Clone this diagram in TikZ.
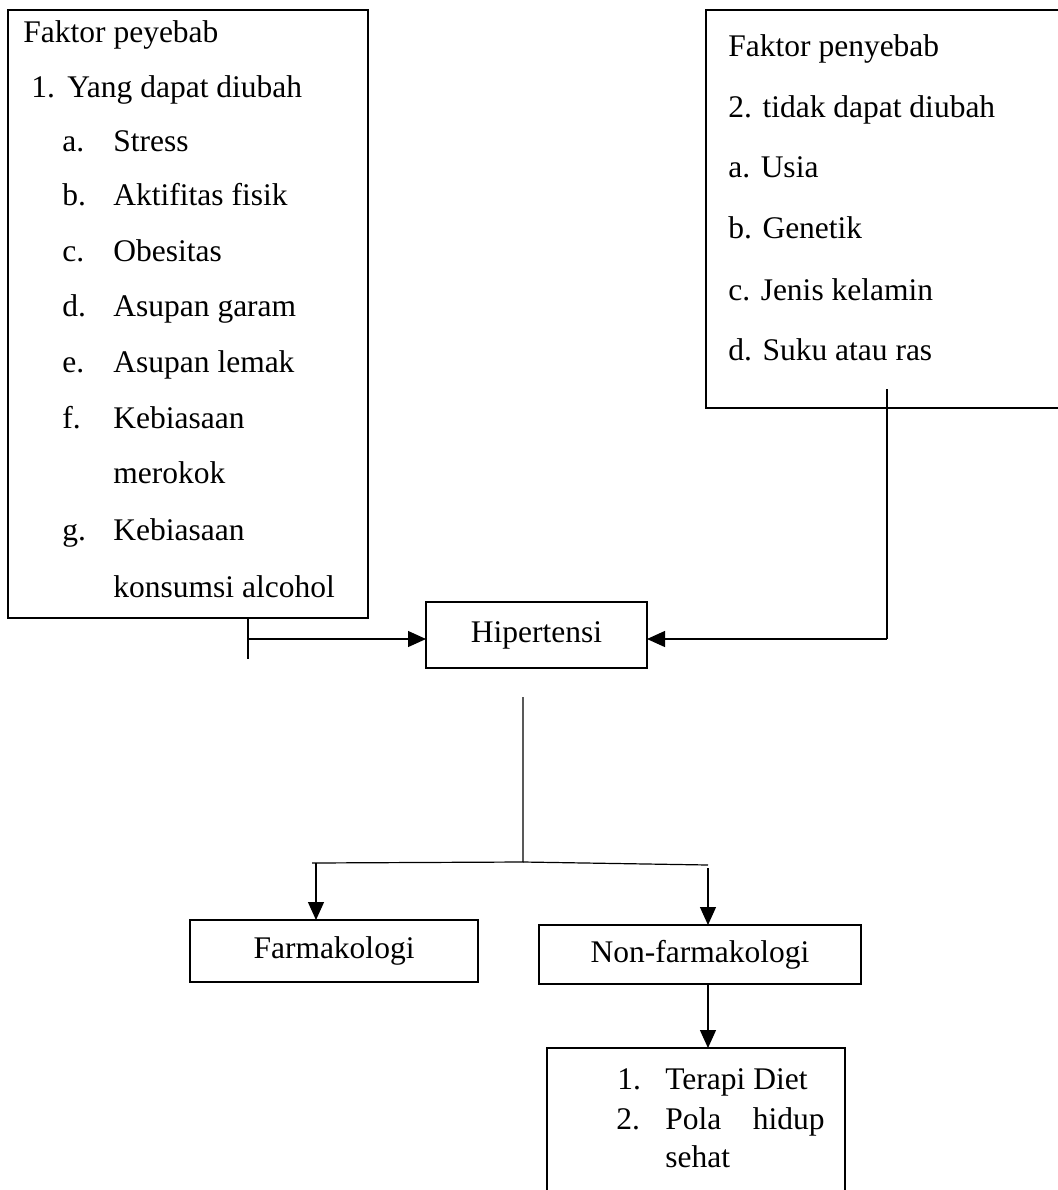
\documentclass[tikz,border=0pt]{standalone}
\usepackage{fontspec}
\setmainfont{Liberation Serif}
\usetikzlibrary{arrows.meta}
\begin{document}
\begin{tikzpicture}[x=0.5pt,y=-0.5pt,
  box/.style={draw, line width=1.2pt, inner sep=0pt, outer sep=0pt},
  conn/.style={line width=0.6pt},
  arr/.style={conn, -{Triangle[length=9pt,width=8pt]}},
  wtxt/.style={anchor=base west, inner sep=0pt, font=\fontsize{15.75pt}{19pt}\selectfont},
  ntxt/.style={anchor=base west, inner sep=0pt, font=\fontsize{15.75pt}{19pt}\selectfont},
  btxt/.style={font=\fontsize{15.75pt}{19pt}\selectfont},
]
\clip (0,0) rectangle (1058,1190);
\fill[white] (0,0) rectangle (1058,1190);

% boxes
\node[box, minimum width=180pt, minimum height=304pt] (lbox) at (188,314) {};
\node[box, minimum width=180pt, minimum height=199pt] (rbox) at (886,209) {};
\node[box, btxt, minimum width=110.5pt, minimum height=33pt] (hip) at (536.5,635) {Hipertensi};
\node[box, btxt, minimum width=144pt, minimum height=31pt] (farm) at (334,951) {Farmakologi};
\node[box, btxt, minimum width=161pt, minimum height=29.5pt] (nonf) at (700,954.5) {Non-farmakologi};
\node[box, minimum width=149pt, minimum height=76pt] (ter) at (696,1124) {};

% left box text
\node[wtxt] (l0) at (23,42) {Faktor peyebab};
\node[wtxt] (l1n) at (31,97.5) {1.};
\node[wtxt] (l1) at (67,97.5) {Yang dapat diubah};
\node[wtxt] (la) at (62,151) {a.};
\node[wtxt] (lat) at (113,151) {Stress};
\node[wtxt] (lb) at (62,205.5) {b.};
\node[wtxt] (lbt) at (113,205.5) {Aktifitas fisik};
\node[wtxt] (lc) at (62,261) {c.};
\node[wtxt] (lct) at (113,261) {Obesitas};
\node[wtxt] (ld) at (62,316.5) {d.};
\node[wtxt] (ldt) at (113,316.5) {Asupan garam};
\node[wtxt] (le) at (62,372) {e.};
\node[wtxt] (let) at (113,372) {Asupan lemak};
\node[wtxt] (lf) at (62,428) {f.};
\node[wtxt] (lft) at (113,428) {Kebiasaan};
\node[wtxt] (lft2) at (113,483) {merokok};
\node[wtxt] (lg) at (62,540) {g.};
\node[wtxt] (lgt) at (113,540) {Kebiasaan};
\node[wtxt] (lgt2) at (113,597) {konsumsi alcohol};

% right box text
\node[ntxt] (r0) at (728,56) {Faktor penyebab};
\node[ntxt] (r1) at (728,117) {2. tidak dapat diubah};
\node[ntxt] (ra) at (728,177) {a. Usia};
\node[ntxt] (rb) at (728,238) {b. Genetik};
\node[ntxt] (rc) at (728,300) {c. Jenis kelamin};
\node[ntxt] (rd) at (728,360) {d. Suku atau ras};

% last box text
\node[wtxt] (t1n) at (617,1089) {1.};
\node[wtxt] (t1) at (665,1089) {Terapi Diet};
\node[wtxt] (t2n) at (616,1129) {2.};
\node[wtxt] (t2a) at (665,1129) {Pola};
\node[wtxt, anchor=base east] (t2b) at (825,1129) {hidup};
\node[wtxt] (t3) at (665,1167) {sehat};

% connectors
\coordinate (lt) at (248,617);
\coordinate (lb2) at (248,659);
\coordinate (lj) at (248,639);
\draw[conn] (lt) -- (lb2);
\draw[arr] (lj) -- (lj -| hip.west);

\coordinate (rt) at (887,389);
\coordinate (rj) at (887,639);
\draw[conn] (rt) -- (rj);
\draw[arr] (rj) -- (rj -| hip.east);

\coordinate (d1) at (523,697);
\coordinate (d2) at (523,862);
\coordinate (bl) at (312,863);
\coordinate (br) at (708,865);
\draw[conn] (d1) -- (d2) -- (bl);
\draw[conn] (d2) -- (br);
\coordinate (fa) at (316,863);
\draw[arr] (fa) -- (fa |- farm.north);
\coordinate (nfa) at (708,868);
\draw[arr] (nfa) -- (nfa |- nonf.north);
\coordinate (nfb) at (nonf.south -| nfa);
\draw[arr] (nfb) -- (nfb |- ter.north);
\end{tikzpicture}
\end{document}
